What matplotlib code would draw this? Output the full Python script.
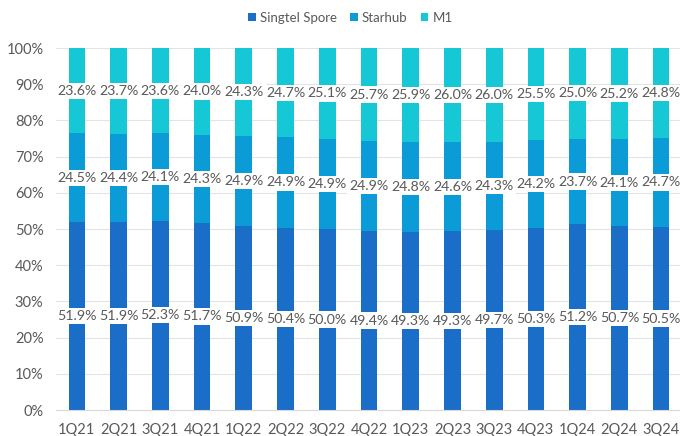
import matplotlib
matplotlib.use("Agg")
import matplotlib.pyplot as plt
import numpy as np
from matplotlib.ticker import FuncFormatter

quarters = ["1Q21", "2Q21", "3Q21", "4Q21", "1Q22", "2Q22", "3Q22", "4Q22",
            "1Q23", "2Q23", "3Q23", "4Q23", "1Q24", "2Q24", "3Q24"]
singtel = [51.9, 51.9, 52.3, 51.7, 50.9, 50.4, 50.0, 49.4, 49.3, 49.3, 49.7, 50.3, 51.2, 50.7, 50.5]
starhub = [24.5, 24.4, 24.1, 24.3, 24.9, 24.9, 24.9, 24.9, 24.8, 24.6, 24.3, 24.2, 23.7, 24.1, 24.7]
m1 = [23.6, 23.7, 23.6, 24.0, 24.3, 24.7, 25.1, 25.7, 25.9, 26.0, 26.0, 25.5, 25.0, 25.2, 24.8]

plt.rcParams['font.family'] = ['Lato', 'DejaVu Sans']

fig = plt.figure(figsize=(6.8, 4.36), dpi=100)
ax = fig.add_axes([56/680, 26/436, 626/680, 362/436])

colors = ["#1a6ec7", "#0b9bd7", "#16c8d6"]
names = ["Singtel Spore", "Starhub", "M1"]
series = [singtel, starhub, m1]
x = np.arange(len(quarters))
bottom = np.zeros(len(quarters))
totals = np.array(singtel) + np.array(starhub) + np.array(m1)
for vals, col, name in zip(series, colors, names):
    v = np.array(vals) / totals * 100
    ax.bar(x, v, width=0.4, bottom=bottom, color=col, label=name, zorder=2)
    for xi, b, vi, lab in zip(x, bottom, v, vals):
        ax.text(xi, b + vi / 2, f"{lab:.1f}%", ha="center", va="center",
                fontsize=10.2, color="#595959", zorder=4,
                bbox=dict(boxstyle="square,pad=0.15", fc="white", ec="none"))
    bottom += v

ax.set_xlim(-0.5, len(quarters) - 0.5)
ax.set_ylim(0, 100)
ax.set_yticks(np.arange(0, 101, 10))
ax.yaxis.set_major_formatter(FuncFormatter(lambda v, p: f"{v:.0f}%"))
ax.set_xticks(x)
ax.set_xticklabels(quarters)
ax.grid(axis="y", color="#e3e3e3", linewidth=0.8, zorder=0)
for s in ["top", "right", "left"]:
    ax.spines[s].set_visible(False)
ax.spines["bottom"].set_color("#d9d9d9")
ax.tick_params(axis="both", length=0, labelsize=10.5, labelcolor="#595959")
ax.tick_params(axis="y", pad=9)
ax.tick_params(axis="x", pad=9)

leg = fig.legend(loc="upper center", bbox_to_anchor=(0.515, 1.0), ncol=3, frameon=False,
                 fontsize=9.5, handlelength=0.6, handleheight=0.6, handletextpad=0.3,
                 columnspacing=1.0, labelcolor="#595959")

fig.savefig("out.png", dpi=100)
